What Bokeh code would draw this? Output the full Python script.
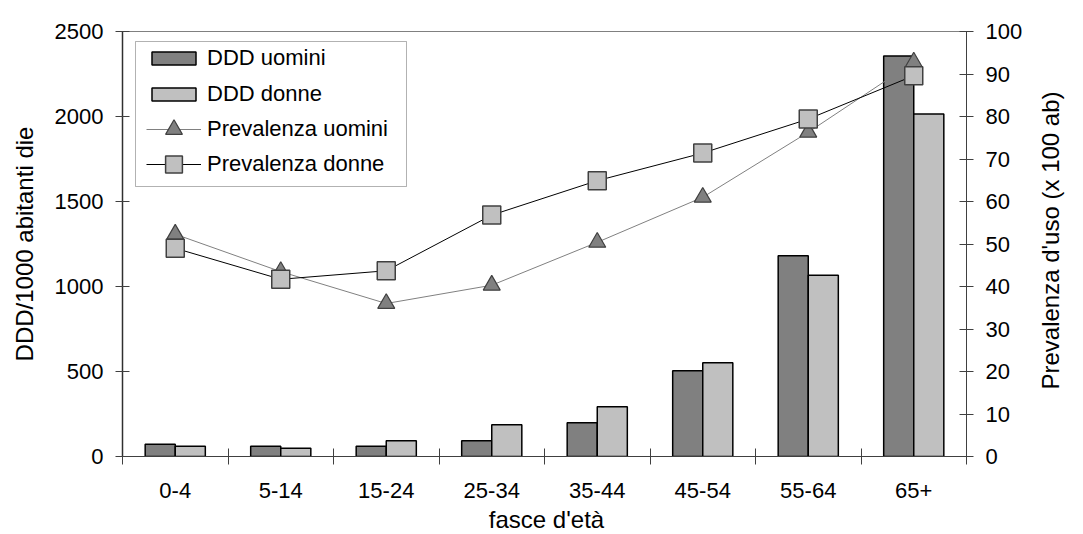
import math
import numpy as np
from bokeh.plotting import figure
from bokeh.models import (Range1d, LinearAxis, FixedTicker, Legend, LegendItem,
                          ColumnDataSource, BoxAnnotation, Label)
from bokeh.embed import file_html
from bokeh.resources import INLINE

categories = ["0-4", "5-14", "15-24", "25-34", "35-44", "45-54", "55-64", "65+"]
ddd_uomini = [72, 60, 60, 93, 199, 505, 1181, 2356]
ddd_donne = [60, 48, 93, 187, 293, 552, 1066, 2015]
prev_uomini = [52.3, 43.5, 36.0, 40.3, 50.4, 61.0, 76.3, 92.8]
prev_donne = [49.0, 41.7, 43.7, 56.8, 64.9, 71.4, 79.4, 89.6]
left_ticks = [0, 500, 1000, 1500, 2000, 2500]
right_ticks = [0, 10, 20, 30, 40, 50, 60, 70, 80, 90, 100]

FONT = "Liberation Sans"
idx = np.arange(len(categories))
bw = 0.285

src = ColumnDataSource(dict(
    x=idx, xu=idx - bw / 2, xd=idx + bw / 2,
    du=ddd_uomini, dd=ddd_donne, pu=prev_uomini, pd=prev_donne,
))

p = figure(width=1083, height=534, x_range=Range1d(-0.5, len(categories) - 0.5),
           y_range=Range1d(0, 2500), output_backend="svg", toolbar_location=None,
           min_border_left=122, min_border_right=117, min_border_top=31, min_border_bottom=78)
p.extra_y_ranges = {"prev": Range1d(0, 100)}
p.xgrid.visible = False
p.ygrid.visible = False
p.outline_line_color = "#808080"
p.background_fill_color = "white"
p.border_fill_color = "white"

# bars
r_bu = p.vbar(x="xu", top="du", width=bw, bottom=0, source=src,
              fill_color="#808080", line_color="black", line_width=1.5)
r_bd = p.vbar(x="xd", top="dd", width=bw, bottom=0, source=src,
              fill_color="#C0C0C0", line_color="black", line_width=1.5)

# prevalence lines
l_pu = p.line(x="x", y="pu", source=src, y_range_name="prev", line_color="#808080", line_width=1)
m_pu = p.scatter(x="x", y="pu", source=src, y_range_name="prev", marker="triangle", size=17,
                 fill_color="#808080", line_color="#404040", line_width=1.2)
l_pd = p.line(x="x", y="pd", source=src, y_range_name="prev", line_color="black", line_width=1)
m_pd = p.scatter(x="x", y="pd", source=src, y_range_name="prev", marker="square", size=18,
                 fill_color="#C0C0C0", line_color="#404040", line_width=1.5)

# x axis
xa = p.xaxis[0]
xa.ticker = FixedTicker(ticks=list(idx), minor_ticks=[i - 0.5 for i in range(len(categories) + 1)])
xa.major_label_overrides = {int(i): c for i, c in zip(idx, categories)}
xa.major_tick_line_color = None
xa.major_tick_out = 8
xa.minor_tick_in = 8
xa.minor_tick_out = 8
xa.minor_tick_line_color = "#404040"
xa.axis_line_color = "#404040"
xa.axis_line_width = 1.2
xa.major_label_standoff = 18

# left axis
ya = p.yaxis[0]
ya.ticker = FixedTicker(ticks=left_ticks, minor_ticks=[])
ya.major_tick_in = 7
ya.major_tick_out = 7
ya.axis_line_color = "#303030"
ya.axis_line_width = 1.5
ya.major_tick_line_color = "#404040"
ya.axis_label = "DDD/1000 abitanti die"
ya.major_label_standoff = 12
ya.axis_label_standoff = 14

# right axis
ra = LinearAxis(y_range_name="prev", ticker=FixedTicker(ticks=right_ticks, minor_ticks=[]))
ra.major_tick_in = 7
ra.major_tick_out = 7
ra.axis_line_color = "#404040"
ra.major_tick_line_color = "#404040"
ra.major_label_standoff = 12
p.add_layout(ra, "right")

for ax in [xa, ya, ra]:
    ax.major_label_text_font = FONT
    ax.major_label_text_font_size = "22px"
    ax.major_label_text_color = "black"
    ax.axis_label_text_font = FONT
    ax.axis_label_text_font_size = "24px"
    ax.axis_label_text_font_style = "normal"
    ax.axis_label_text_color = "black"

# axis titles drawn as labels (right one reads bottom-to-top like the reference)
right_title = Label(x=1050, y=240, x_units="canvas", y_units="canvas",
                    text="Prevalenza d'uso (x 100 ab)", angle=math.pi / 2,
                    text_align="center", text_baseline="middle",
                    text_font=FONT, text_font_size="24px", text_color="black")
p.add_layout(right_title, "right")
bottom_title = Label(x=546, y=519, x_units="canvas", y_units="canvas",
                     text="fasce d'età", text_align="center", text_baseline="middle",
                     text_font=FONT, text_font_size="24px", text_color="black")
p.add_layout(bottom_title, "below")

# legend frame
box = BoxAnnotation(left=135, right=406, top=41, bottom=186,
                    left_units="canvas", right_units="canvas",
                    top_units="canvas", bottom_units="canvas",
                    fill_color="white", fill_alpha=1, line_color="black", line_width=1)
p.add_layout(box)

def make_legend(label, renderers, gh, y):
    lg = Legend(items=[LegendItem(label=label, renderers=renderers)], location=(24, y))
    lg.border_line_color = None
    lg.background_fill_alpha = 0
    lg.label_text_font = FONT
    lg.label_text_font_size = "22px"
    lg.label_text_color = "black"
    lg.glyph_width = 55
    lg.glyph_height = gh
    lg.label_height = 24
    lg.spacing = 0
    lg.padding = 0
    lg.label_standoff = 6
    lg.margin = 0
    p.add_layout(lg)

make_legend("DDD uomini", [r_bu], 16, 385)
make_legend("DDD donne", [r_bd], 16, 349)
make_legend("Prevalenza uomini", [l_pu, m_pu], 42, 306)
make_legend("Prevalenza donne", [l_pd, m_pd], 42, 271)

open("out.html", "w").write(file_html(p, INLINE))
